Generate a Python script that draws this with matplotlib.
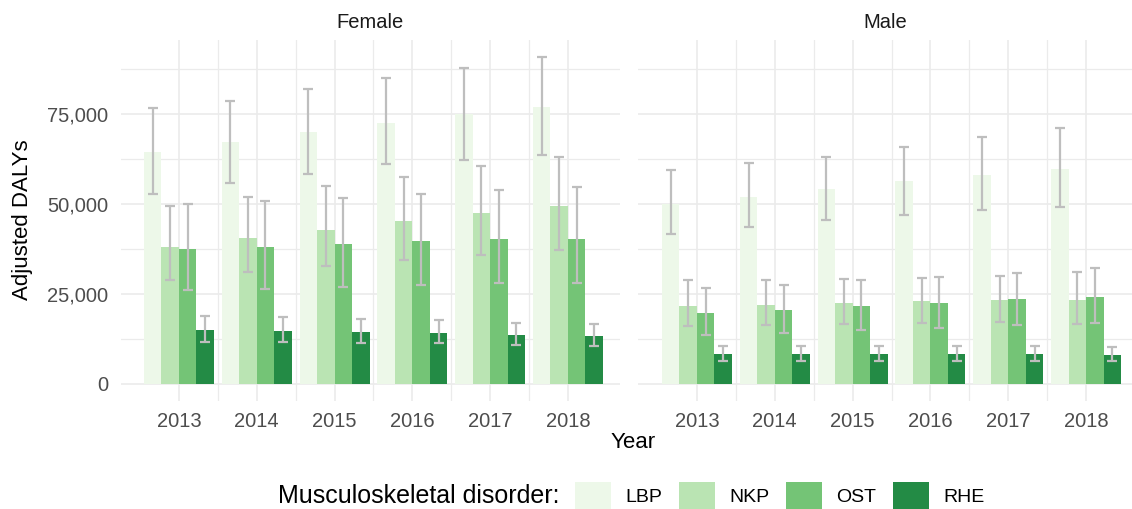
import matplotlib.pyplot as plt
from matplotlib.ticker import FuncFormatter, MultipleLocator
import numpy as np

plt.rcParams['font.family'] = ['Liberation Sans', 'DejaVu Sans']

years = ["2013", "2014", "2015", "2016", "2017", "2018"]
disorders = ["LBP", "NKP", "OST", "RHE"]
colors = ["#edf8e9", "#bae4b3", "#74c476", "#238b45"]

# Female: value, lower, upper
female_lbp = [64500, 67300, 69900, 72500, 75100, 77050]
female_lbp_lo = [52700, 55950, 58460, 60970, 62270, 63570]
female_lbp_hi = [76580, 78630, 81970, 85040, 87920, 90800]
female_nkp = [38100, 40430, 42850, 45260, 47490, 49350]
female_nkp_lo = [28810, 31040, 32710, 34390, 35780, 37080]
female_nkp_hi = [49440, 51950, 55020, 57620, 60600, 63110]
female_ost = [37360, 38100, 38850, 39590, 40240, 40330]
female_ost_lo = [26020, 26490, 27050, 27420, 27970, 28160]
female_ost_hi = [50000, 50750, 51670, 52790, 53900, 54740]
female_rhe = [14870, 14590, 14310, 14130, 13660, 13380]
female_rhe_lo = [11620, 11520, 11430, 11340, 10870, 10500]
female_rhe_hi = [18870, 18500, 18120, 17840, 17010, 16640]

# Male
male_lbp = [50000, 52050, 54180, 56410, 58180, 59670]
male_lbp_lo = [41540, 43590, 45540, 46840, 48240, 49260]
male_lbp_hi = [59480, 61250, 63010, 65700, 68680, 71000]
male_nkp = [21560, 22030, 22580, 22960, 23330, 23420]
male_nkp_lo = [16170, 16450, 16730, 16910, 17100, 16730]
male_nkp_hi = [28810, 29000, 29090, 29550, 30110, 30950]
male_ost = [19610, 20540, 21560, 22490, 23510, 24260]
male_ost_lo = [13480, 14130, 14870, 15610, 16360, 16820]
male_ost_hi = [26580, 27510, 28900, 29740, 30760, 32160]
male_rhe = [8270, 8180, 8270, 8270, 8180, 7990]
male_rhe_lo = [6320, 6320, 6410, 6320, 6230, 6230]
male_rhe_hi = [10590, 10410, 10500, 10500, 10410, 10130]

panels = {
    "Female": [(female_lbp, female_lbp_lo, female_lbp_hi),
               (female_nkp, female_nkp_lo, female_nkp_hi),
               (female_ost, female_ost_lo, female_ost_hi),
               (female_rhe, female_rhe_lo, female_rhe_hi)],
    "Male": [(male_lbp, male_lbp_lo, male_lbp_hi),
             (male_nkp, male_nkp_lo, male_nkp_hi),
             (male_ost, male_ost_lo, male_ost_hi),
             (male_rhe, male_rhe_lo, male_rhe_hi)],
}

W, H = 1132, 509
fig = plt.figure(figsize=(W / 100, H / 100), dpi=100)

def px(x0, y0, w, h):
    return [x0 / W, 1 - (y0 + h) / H, w / W, h / H]

ax1 = fig.add_axes(px(121, 40, 499, 361))
ax2 = fig.add_axes(px(638, 40, 494, 361))
xlims = [(0.255, 6.67), (0.242, 6.59)]

x = np.arange(1, 7)
bw = 0.225
grid_c = "#ebebeb"

for ax, lim, (name, series) in zip([ax1, ax2], xlims, panels.items()):
    for i, (vals, lo, hi) in enumerate(series):
        xs = x + (i - 1.5) * bw
        v = np.array(vals)
        ax.bar(xs, v, bw, color=colors[i], zorder=2, label=disorders[i])
        ax.errorbar(xs, v, yerr=[v - np.array(lo), np.array(hi) - v], fmt='none',
                    ecolor="#bebebe", elinewidth=1.6, capsize=3.8, capthick=1.6, zorder=3)
    ax.set_xlim(*lim)
    ax.set_ylim(-4765, 95565)
    ax.set_xticks(x)
    ax.set_xticklabels(years)
    ax.set_xticks(x[:-1] + 0.5, minor=True)
    ax.yaxis.set_major_locator(MultipleLocator(25000))
    ax.yaxis.set_minor_locator(MultipleLocator(12500))
    ax.grid(which='major', color=grid_c, linewidth=1.2, zorder=0)
    ax.grid(which='minor', color=grid_c, linewidth=0.9, zorder=0)
    ax.set_axisbelow(True)
    for s in ax.spines.values():
        s.set_visible(False)
    ax.tick_params(which='both', length=0)
    ax.tick_params(axis='x', labelsize=14.5, labelcolor="#4d4d4d", pad=8)
    ax.tick_params(axis='y', labelsize=14.5, labelcolor="#4d4d4d", pad=9)
    ax.set_title(name, fontsize=14.5, color="#1a1a1a", pad=9)

ax1.yaxis.set_major_formatter(FuncFormatter(lambda v, p: f"{int(v):,}"))
ax2.set_yticklabels([])

fig.text(23 / W, 1 - 220 / H, "Adjusted DALYs", rotation=90, ha='center', va='center',
         fontsize=16, color="#000000")
fig.text(633 / W, 1 - 443 / H, "Year", ha='center', va='center', fontsize=16, color="#000000")

fig.text(560 / W, 1 - 496 / H, "Musculoskeletal disorder:", ha='right', va='center',
         fontsize=18, color="#000000")
handles, labels = ax1.get_legend_handles_labels()
fig.legend(handles, labels, loc='center left', bbox_to_anchor=(575 / W, 1 - 496 / H),
           ncol=4, frameon=False, fontsize=14, handlelength=1.85, handleheight=1.85,
           handletextpad=0.72, columnspacing=0.88, borderaxespad=0, borderpad=0)

fig.savefig("out.png", dpi=100)
